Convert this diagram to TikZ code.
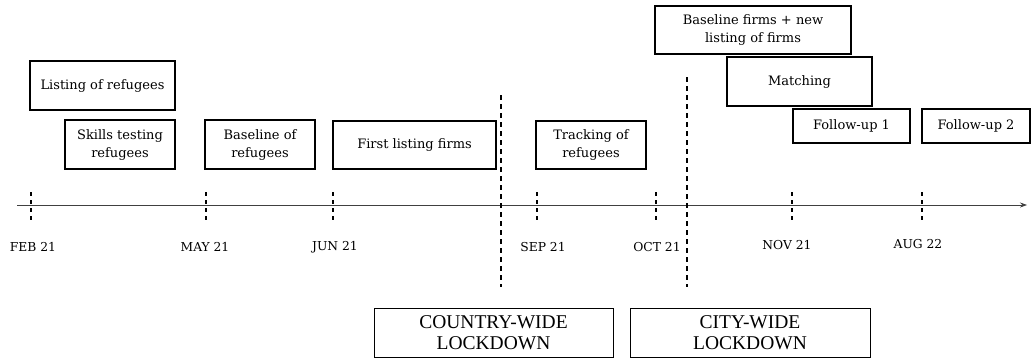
\documentclass[tikz,border=0pt]{standalone}
\usepackage{fontspec}
\setmainfont{DejaVu Serif}
\newfontfamily\lockfont{Liberation Serif}
\usetikzlibrary{arrows.meta}
\begin{document}
\begin{tikzpicture}[x=1pt,y=-1pt,
  topbox/.style={draw, line width=2.1pt, align=center, inner sep=0pt, font=\fontsize{13}{18}\selectfont},
  lockbox/.style={draw, line width=1pt, align=center, inner sep=0pt, minimum width=240pt, minimum height=49pt, font=\lockfont\fontsize{19.5}{21}\selectfont},
  datelabel/.style={font=\fontsize{12.3}{14}\selectfont, inner sep=0pt},
  tick/.style={line width=1.3pt, dash pattern=on 4pt off 4pt},
  lockline/.style={line width=1.4pt, dash pattern=on 5pt off 4pt},
  axis/.style={line width=0.7pt, draw=black!75, -{Stealth[length=7pt,width=5pt]}}]
\useasboundingbox (0,0) rectangle (1032,360);
% axis
\coordinate (a0) at (17,205);
\coordinate (a1) at (1027,205);
\draw[axis] (a0) -- (a1);
% ticks
\foreach \n/\x in {feb/31,may/206,jun/333,sep/537,oct/656,nov/792,aug/922}{
  \coordinate (\n t) at (\x,192);
  \coordinate (\n b) at (\x,223);
  \draw[tick] (\n t) -- (\n b);
}
% date labels
\node[datelabel] (feb) at (33,247) {FEB 21};
\node[datelabel] (may) at (205,247) {MAY 21};
\node[datelabel] (jun) at (335,247) {JUN 21};
\node[datelabel] (sep) at (543,247) {SEP 21};
\node[datelabel] (oct) at (657,247) {OCT 21};
\node[datelabel] (nov) at (787,245) {NOV 21};
\node[datelabel] (aug) at (918,244) {AUG 22};
% activity boxes
\node[topbox, minimum width=145pt, minimum height=49pt] (listref) at (102.5,85.5) {Listing of refugees};
\node[topbox, minimum width=110pt, minimum height=49pt] (skills) at (120,144.5) {Skills testing\\refugees};
\node[topbox, minimum width=110pt, minimum height=49pt] (baseref) at (260,144.5) {Baseline of\\refugees};
\node[topbox, minimum width=163pt, minimum height=48pt] (firstfirms) at (414.5,145) {First listing firms};
\node[topbox, minimum width=110pt, minimum height=48pt] (tracking) at (591,145) {Tracking of\\refugees};
\node[topbox, minimum width=196pt, minimum height=48pt] (basefirms) at (753,30) {Baseline firms + new\\listing of firms};
\node[topbox, minimum width=145pt, minimum height=49pt] (matching) at (799.5,81.5) {Matching};
\node[topbox, minimum width=117pt, minimum height=34pt] (fu1) at (851.5,126) {Follow-up 1};
\node[topbox, minimum width=108pt, minimum height=34pt] (fu2) at (976,126) {Follow-up 2};
% lockdown lines
\coordinate (cw1) at (501,95);
\coordinate (cw2) at (501,287);
\coordinate (ct1) at (687,77);
\coordinate (ct2) at (687,287);
\draw[lockline] (cw1) -- (cw2);
\draw[lockline] (ct1) -- (ct2);
% lockdown boxes
\node[lockbox, minimum width=239pt] (country) at (493.5,332.5) {COUNTRY-WIDE\\LOCKDOWN};
\node[lockbox] (city) at (750,332.5) {CITY-WIDE\\LOCKDOWN};
\end{tikzpicture}
\end{document}
